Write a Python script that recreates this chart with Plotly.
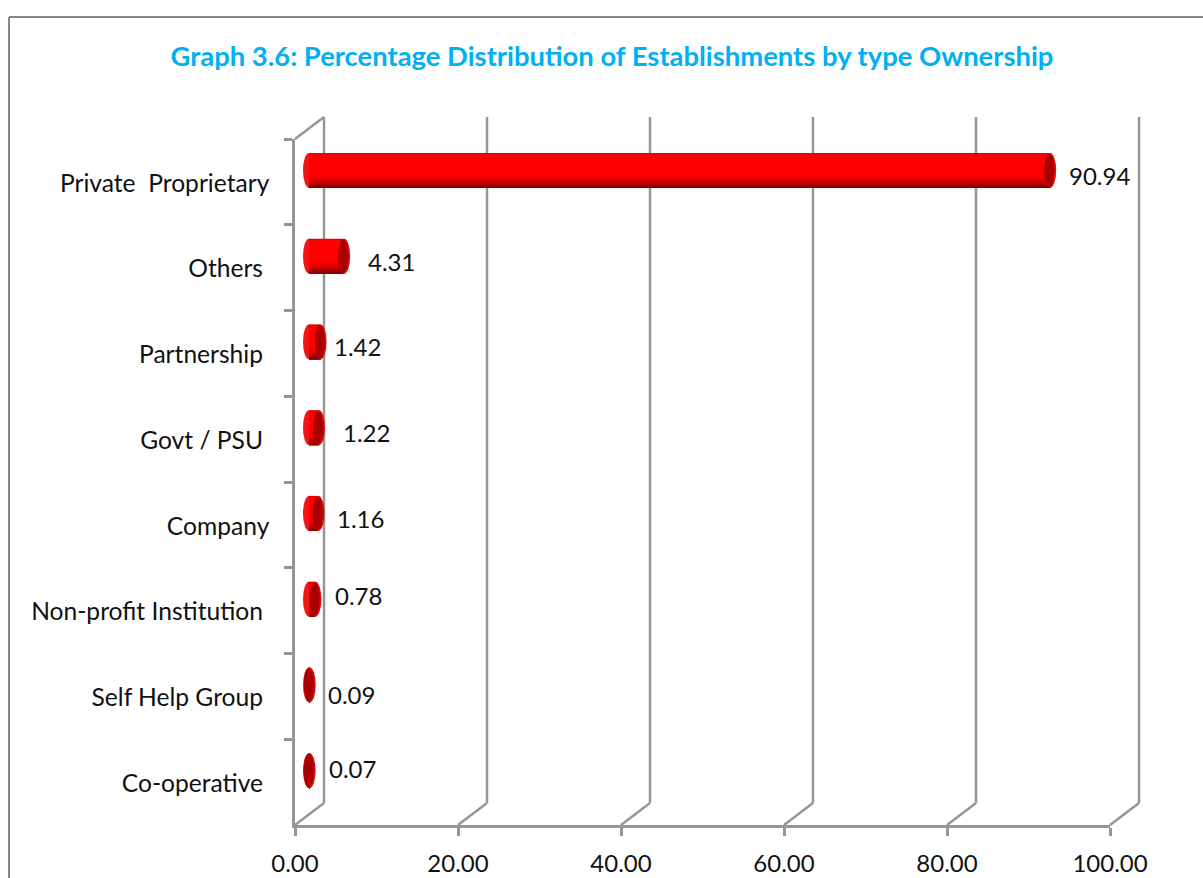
import plotly.graph_objects as go

# ---- data ----
categories = ["Private\u00a0\u00a0Proprietary", "Others\u00a0", "Partnership\u00a0", "Govt / PSU\u00a0",
              "Company", "Non-profit Institution\u00a0", "Self Help Group\u00a0", "Co-operative\u00a0"]
values = [90.94, 4.31, 1.42, 1.22, 1.16, 0.78, 0.09, 0.07]
x_ticks = [0, 20, 40, 60, 80, 100]
title_text = "Graph 3.6: Percentage Distribution of Establishments by type Ownership"

# ---- styling / label nudges (pixels) ----
label_dx = [49, 47, 37, 48, 42, 43, 42, 43]
label_dy = [6, 6, 7, 7, 6, 15, 2, 14]
GRID = "#969696"
FONT = "Lato"
W, H = 1203, 878
L, R, T, B = 295, 93, 139, 53
px_per_unit = (W - L - R) / 100.0
plot_h = H - T - B
band_h = plot_h / len(categories)
depth_px, depth_py = 29.0, 22.0
dpx = depth_px / (W - L - R)
dpy = depth_py / plot_h
base_units = 14.0 / px_per_unit
cap_half_x = 6.0 / px_per_unit
bar_h = 35.0 / band_h
bar_shift = -11.5 / band_h
top_off = bar_shift - bar_h / 2

# painted in order, each one reaching to the bottom of the bar so no seams show
stripes = [(0.00, "#e40000"), (0.03, "#f20000"), (0.07, "#ff0000"),
           (0.62, "#f80000"), (0.70, "#ea0000"), (0.77, "#d80000"),
           (0.83, "#c00000"), (0.88, "#a80000"), (0.93, "#860000")]

fig = go.Figure()
for f0, col in stripes:
    fig.add_trace(go.Bar(
        y=categories, x=values, base=base_units, orientation="h",
        offset=top_off + f0 * bar_h, width=(1 - f0) * bar_h,
        marker=dict(color=col, line=dict(width=0)), hoverinfo="skip", showlegend=False))

shapes = []
def wall(x0, y0, x1, y1):
    shapes.append(dict(type="line", xref="paper", yref="paper", x0=x0, y0=y0, x1=x1, y1=y1,
                       line=dict(color=GRID, width=2.5), layer="below"))

for t in x_ticks:
    px = t / 100.0
    wall(px, 0, px + dpx, dpy)
    wall(px + dpx, dpy, px + dpx, 1 + dpy)
wall(0, 1, dpx, 1 + dpy)

# outer frame (runs off the page at the right and bottom)
fx0, fy0 = (9 - L) / (W - L - R), (H - B - 17) / plot_h
fx1, fy1 = (W - L) / (W - L - R), -B / plot_h
for a in [(fx0, fy0, fx1, fy0), (fx0, fy0, fx0, fy1)]:
    shapes.append(dict(type="line", xref="paper", yref="paper", x0=a[0], y0=a[1], x1=a[2], y1=a[3],
                       line=dict(color="#868686", width=2), layer="below"))

def ell(cx, i, hx, col, layer, hy=bar_h / 2):
    c = i + bar_shift
    shapes.append(dict(type="circle", xref="x", yref="y", x0=cx - hx, x1=cx + hx, y0=c - hy, y1=c + hy,
                       fillcolor=col, line=dict(width=0), layer=layer))

annotations = []
for i, v in enumerate(values):
    end = base_units + v
    ell(base_units, i, cap_half_x, "#f41414", "below")
    ell(end, i, cap_half_x, "#e00808", "above")
    ell(end - 0.8 / px_per_unit, i, cap_half_x - 1.0 / px_per_unit, "#a80000", "above", bar_h / 2 - 0.012)
    annotations.append(dict(x=end, y=categories[i], xref="x", yref="y", text=f"{v:.2f}", showarrow=False,
                            xshift=label_dx[i], yshift=label_dy[i],
                            font=dict(family=FONT, size=24, color="#111111")))

fig.update_layout(
    width=W, height=H, autosize=False,
    margin=dict(l=L, r=R, t=T, b=B, pad=0, autoexpand=False),
    paper_bgcolor="white", plot_bgcolor="rgba(0,0,0,0)",
    barmode="overlay", showlegend=False,
    title=dict(text=f"<b>{title_text}</b>", x=612 / W, xanchor="center", xref="container",
               y=1 - 56 / H, yanchor="middle", yref="container",
               font=dict(family=FONT, size=27.4, color="#00B0F0")),
    shapes=shapes, annotations=annotations,
    xaxis=dict(range=[0, 100], tickvals=x_ticks, tickformat=".2f", showgrid=False, zeroline=False,
               showline=True, linecolor=GRID, linewidth=2.5, ticks="outside", ticklen=8, tickwidth=2.5,
               tickcolor=GRID, ticklabelstandoff=7, automargin=False,
               tickfont=dict(family=FONT, size=24, color="#111111")),
    yaxis=dict(type="category", categoryorder="array", categoryarray=categories,
               range=[len(categories) - 0.5, -0.5], tickson="boundaries", showgrid=False, zeroline=False,
               showline=True, linecolor=GRID, linewidth=2.5, ticks="outside", ticklen=8, tickwidth=2.5,
               tickcolor=GRID, ticklabelstandoff=18, ticklabelshift=-1, automargin=False,
               tickfont=dict(family=FONT, size=24.6, color="#111111")),
)
fig.write_html("out.html", config=dict(displayModeBar=False),
               post_script="document.body.style.margin='0';document.body.style.overflow='hidden';")
